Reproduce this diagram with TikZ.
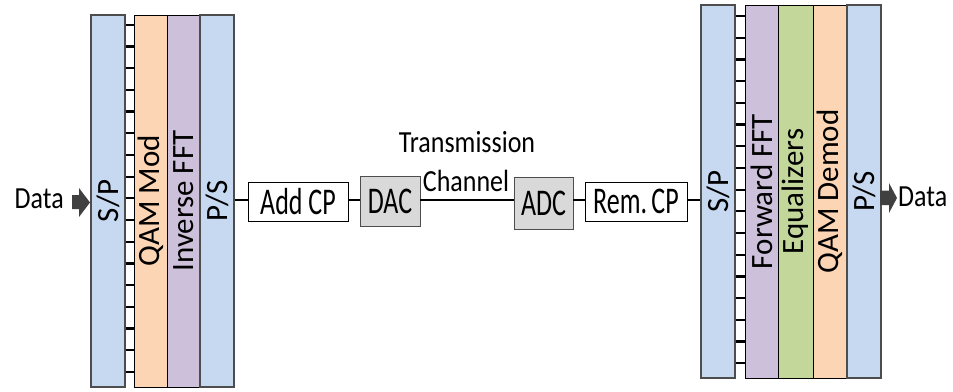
\documentclass[tikz,border=0pt]{standalone}
\usepackage{fontspec}
\setmainfont{Carlito}
\usetikzlibrary{calc}
\definecolor{cblue}{HTML}{C6D9F0}
\definecolor{corange}{HTML}{FCD5B4}
\definecolor{cpurple}{HTML}{CCC0DA}
\definecolor{cgreen}{HTML}{C4D79B}
\definecolor{cgray}{HTML}{D9D9D9}
\definecolor{carrow}{HTML}{404040}
\definecolor{cedge}{HTML}{4D4D4D}
\newcommand{\boxtxt}[1]{\scalebox{1}[1.45]{#1}}
\newcommand{\captxt}[1]{\scalebox{1}[1.18]{#1}}
\tikzset{
  col/.style={draw=black, line width=0.9pt, minimum height=372pt, inner sep=0pt,
    font=\fontsize{31}{31}\selectfont},
  bluecol/.style={col, draw=cedge, line width=1.4pt, fill=cblue},
  hbox/.style={draw=black, line width=0.9pt, fill=white, inner sep=0pt,
    font=\fontsize{26}{26}\selectfont},
  graybox/.style={hbox, fill=cgray, draw=cedge},
  wire/.style={line width=2.2pt},
  tick/.style={line width=2.2pt},
  lbl/.style={inner sep=0pt, font=\fontsize{26}{26}\selectfont},
  blockarrow/.style={fill=carrow, draw=none}
}
\begin{document}
\begin{tikzpicture}[x=1pt, y=-1pt]
\useasboundingbox (0,0) rectangle (953,391);
% left block
\node[bluecol, minimum width=34pt] (lsp) at (108,201) {\rotatebox{90}{S/P}};
\node[col, fill=corange, minimum width=33pt] (qam) at (150.5,201) {\rotatebox{90}{QAM Mod}};
\node[col, fill=cpurple, minimum width=33pt] (ifft) at (183.5,201) {\rotatebox{90}{Inverse FFT}};
\node[bluecol, minimum width=34pt] (lps) at (217,201) {\rotatebox{90}{P/S}};
\foreach \k in {0,...,16}{
  \draw[tick] ($(lsp.east)+(0,-176.3+21.7*\k)$) -- ($(qam.west)+(0,-176.3+21.7*\k)$);
}
% right block
\node[bluecol, minimum width=34pt, minimum height=373pt] (rsp) at (718,191.5) {\rotatebox{90}{S/P}};
\node[col, fill=cpurple, minimum width=33pt, minimum height=373pt] (fft) at (761.5,191.5) {\rotatebox{90}{Forward FFT}};
\node[col, fill=cgreen, minimum width=35pt, minimum height=373pt] (eq) at (795.5,191.5) {\rotatebox{90}{Equalizers}};
\node[col, fill=corange, minimum width=34pt, minimum height=373pt] (qdem) at (830,191.5) {\rotatebox{90}{QAM Demod}};
\node[bluecol, minimum width=34pt, minimum height=373pt] (rps) at (864,191.5) {\rotatebox{90}{P/S}};
\foreach \k in {0,...,16}{
  \draw[tick] ($(rsp.east)+(0,-175.5+21.7*\k)$) -- ($(fft.west)+(0,-175.5+21.7*\k)$);
}
% middle chain
\node[hbox, minimum width=100pt, minimum height=39pt] (addcp) at (298,201.5) {\boxtxt{Add CP}};
\node[graybox, minimum width=60pt, minimum height=50pt] (dac) at (390,201) {\boxtxt{DAC}};
\node[graybox, minimum width=59pt, minimum height=52pt] (adc) at (543.5,203) {\boxtxt{ADC}};
\node[hbox, minimum width=102pt, minimum height=39pt] (remcp) at (636,201.5) {\boxtxt{Rem.\,CP}};
\coordinate (ly) at (0,200);
\draw[wire] (lps.east |- ly) -- (addcp.west |- ly);
\draw[wire] (addcp.east |- ly) -- (dac.west |- ly);
\draw[wire] (dac.east |- ly) -- (adc.west |- ly);
\draw[wire] (remcp.east |- ly) -- (rsp.west |- ly);
\draw[wire] (adc.east |- ly) -- (remcp.west |- ly);
\node[lbl] (trans) at (467,142.5) {\captxt{Transmission}};
\node[lbl] (chan) at (466,181) {\captxt{Channel}};
% data arrows
\node[lbl, anchor=east] (din) at (64,198.5) {\captxt{Data}};
\node[lbl, anchor=west] (dout) at (898,197) {\captxt{Data}};
\fill[blockarrow] (72,195) -- (79,195) -- (79,188) -- (90,202.5) -- (79,217) -- (79,209) -- (72,209) -- cycle;
\fill[blockarrow] (880,190.5) -- (889,190.5) -- (889,183) -- (897,198) -- (889,213) -- (889,205) -- (880,205) -- cycle;
\end{tikzpicture}
\end{document}
